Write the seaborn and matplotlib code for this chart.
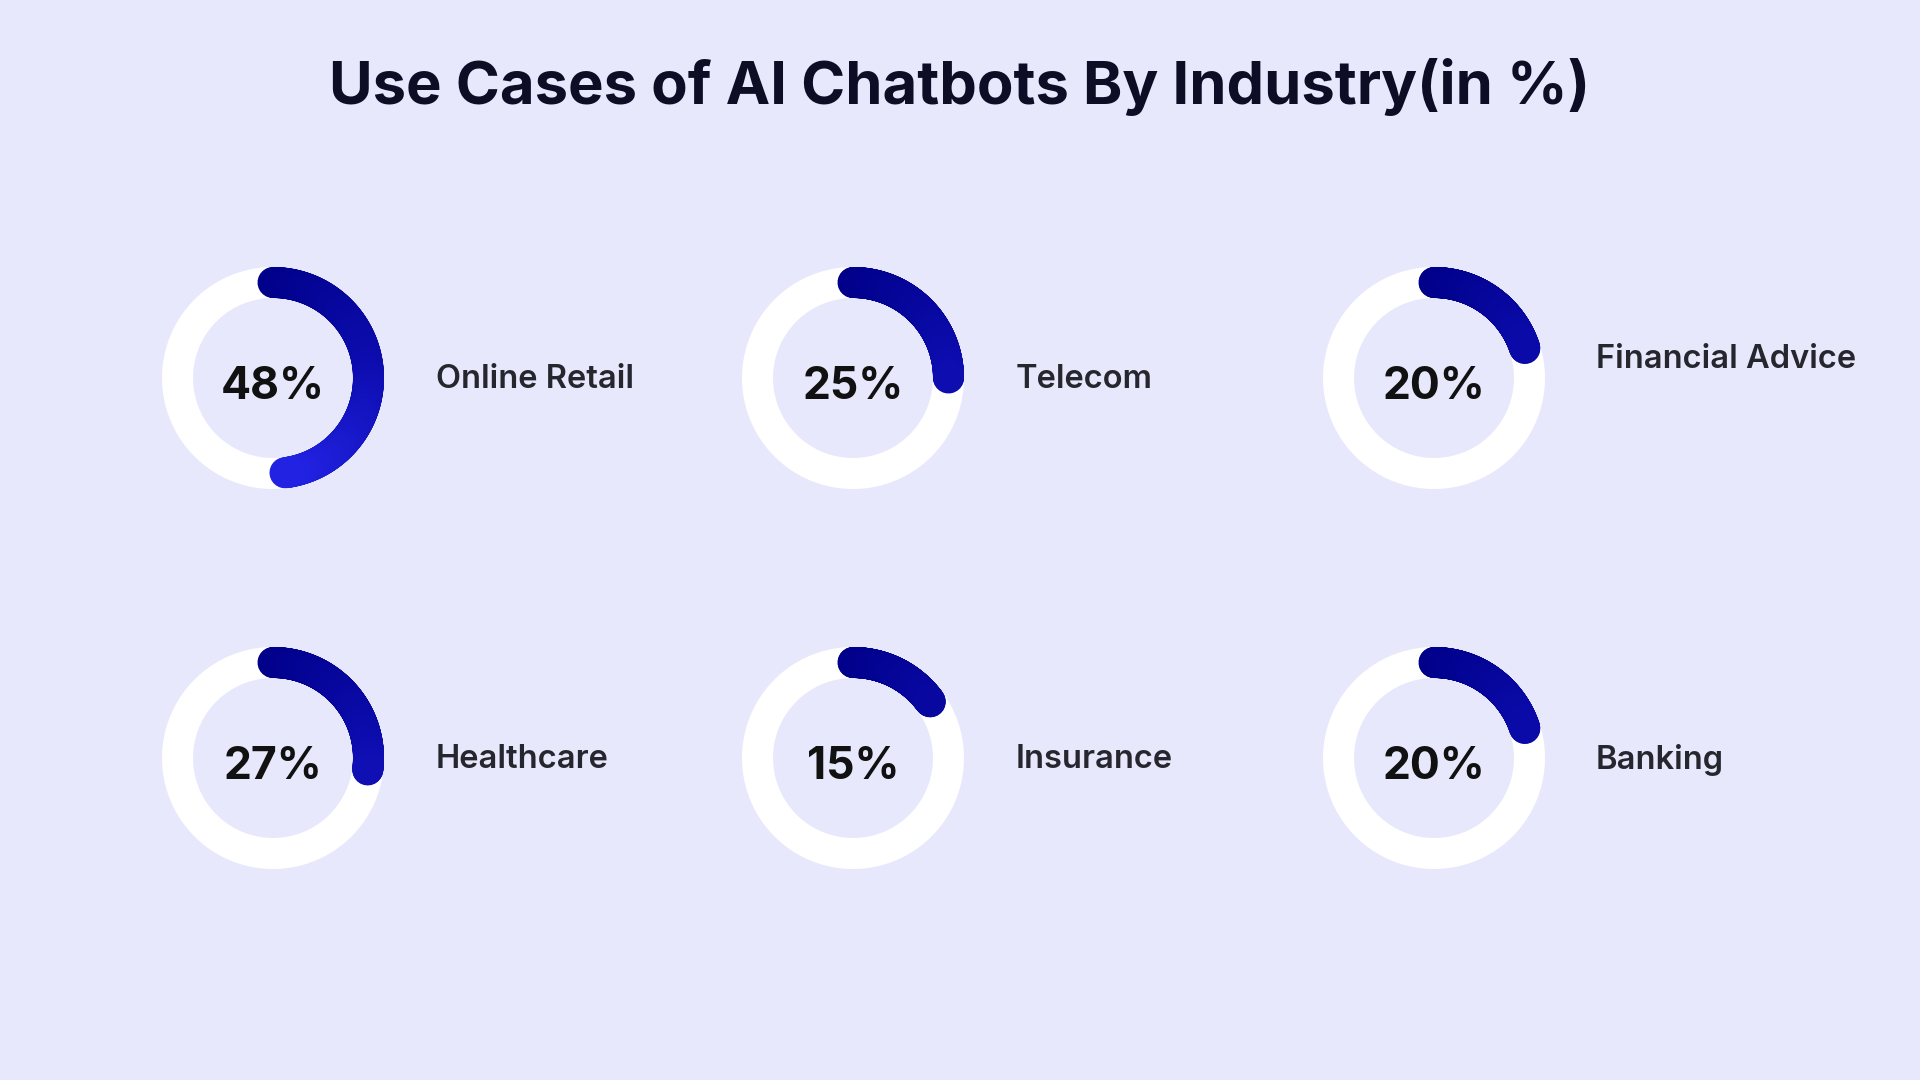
import numpy as np
import seaborn as sns
import matplotlib.pyplot as plt
from matplotlib.collections import LineCollection
from matplotlib.colors import LinearSegmentedColormap

# data
industries = ["Online Retail", "Telecom", "Financial Advice",
              "Healthcare", "Insurance", "Banking"]
shares = [48, 25, 20, 27, 15, 20]
title = "Use Cases of AI Chatbots By Industry(in %)"

BG = "#E8E8FD"
sns.set_theme(style="white")
plt.rcParams["font.family"] = ["Inter", "DejaVu Sans"]

fig = plt.figure(figsize=(19.2, 10.8), dpi=100)
fig.patch.set_facecolor(BG)

W, H = 1920, 1080
col_x = [273, 853, 1434]
row_y = [378, 758]
label_x = [436, 1016, 1596]
label_dy = [2, 2, -18, 2, 2, 2]
S = 300          # axes size in px
R_MID = 95.5     # ring mid radius in px
RING_W = 31 * 72 / 100  # ring width in points

cmap = LinearSegmentedColormap.from_list("arc", ["#00008A", "#0D0DB0", "#2424E8"])

for i, (name, val) in enumerate(zip(industries, shares)):
    cx = col_x[i % 3]
    cy = row_y[i // 3]
    ax = fig.add_axes([(cx - S / 2) / W, 1 - (cy + S / 2) / H, S / W, S / H],
                      projection="polar")
    ax.set_theta_zero_location("N")
    ax.set_theta_direction(-1)
    ax.set_ylim(0, S / 2)
    ax.set_axis_off()

    # white track
    t_full = np.linspace(0, 2 * np.pi, 400)
    sns.lineplot(x=t_full, y=np.full_like(t_full, R_MID), ax=ax, color="white",
                 lw=RING_W, errorbar=None, sort=False)

    # gradient value arc
    t = np.linspace(0, 2 * np.pi * val / 100, 300)
    pts = np.column_stack([t, np.full_like(t, R_MID)])
    segs = np.stack([pts[:-1], pts[1:]], axis=1)
    frac = np.clip(t[:-1] / np.pi, 0, 1)
    lc = LineCollection(segs, colors=cmap(frac), linewidths=RING_W,
                        capstyle="round", transform=ax.transData)
    ax.add_collection(lc)

    ax.text(0.5, 0.47, f"{val}%", transform=ax.transAxes, ha="center",
            va="center", fontsize=32, fontweight="bold", color="#111111")

    fig.text(label_x[i % 3] / W, 1 - (cy + label_dy[i]) / H, name,
             ha="left", va="center", fontsize=23.5, fontweight="semibold",
             color="#26262E")

fig.text(0.5, 1 - 87 / H, title, ha="center", va="center", fontsize=43,
         fontweight="bold", color="#0D0D26")

fig.savefig("out.png", dpi=100, facecolor=BG)
